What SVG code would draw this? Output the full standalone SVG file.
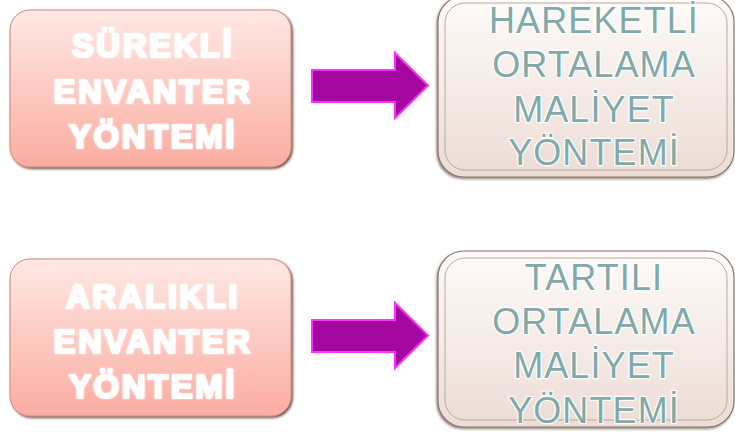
<svg xmlns="http://www.w3.org/2000/svg" width="735" height="432" viewBox="0 0 735 432">
<defs>
<linearGradient id="pink" x1="0" y1="0" x2="0" y2="1">
<stop offset="0" stop-color="#fee9e4"/>
<stop offset="1" stop-color="#fbaca1"/>
</linearGradient>
<linearGradient id="cream" x1="0" y1="0" x2="0" y2="1">
<stop offset="0" stop-color="#fefbf9"/>
<stop offset="1" stop-color="#ecdcd5"/>
</linearGradient>
<filter id="shadow" x="-10%" y="-10%" width="125%" height="125%">
<feDropShadow dx="1.5" dy="1.5" stdDeviation="1.2" flood-color="#4a2018" flood-opacity="0.8"/>
</filter>
<filter id="shadow2" x="-10%" y="-10%" width="125%" height="125%">
<feDropShadow dx="-1" dy="1.5" stdDeviation="1.2" flood-color="#3a2a20" flood-opacity="0.6"/>
</filter>
<filter id="glow" x="-10%" y="-20%" width="120%" height="140%">
<feGaussianBlur in="SourceAlpha" stdDeviation="1.2" result="b"/>
<feFlood flood-color="#ffffff" flood-opacity="0.7"/>
<feComposite in2="b" operator="in" result="g"/>
<feMerge><feMergeNode in="g"/><feMergeNode in="SourceGraphic"/></feMerge>
</filter>
</defs>
<style>
.lbox{fill:url(#pink);stroke:#d08a7c;stroke-width:1;filter:url(#shadow)}
.rbox{fill:url(#cream);stroke:#8a766c;stroke-width:1.2;filter:url(#shadow2)}
.inner{fill:none;stroke:#b8aaa2;stroke-width:1}
.lt{font-family:"Liberation Sans",Arial,sans-serif;font-weight:bold;font-size:33px;letter-spacing:2.5px;fill:#ffffff;stroke:#ffffff;stroke-width:2.2px;stroke-linejoin:round;text-anchor:middle;filter:url(#glow)}
.rt{font-family:"Liberation Sans",Arial,sans-serif;font-size:36px;letter-spacing:1.1px;fill:#82a9a9;stroke:#ffffff;stroke-width:2.4px;paint-order:stroke;stroke-linejoin:round;text-anchor:middle}
.arrow{fill:#a3079e;stroke:#ff30ff;stroke-width:2;stroke-linejoin:miter}
</style>
<g id="surekli">
<rect class="lbox" x="10" y="10" width="281" height="157" rx="20"/>
<text class="lt" x="153" y="57">SÜREKLİ</text>
<text class="lt" x="153" y="103">ENVANTER</text>
<text class="lt" x="153" y="148">YÖNTEMİ</text>
</g>
<g id="aralikli">
<rect class="lbox" x="10" y="259" width="281" height="157" rx="20"/>
<text class="lt" x="153" y="308">ARALIKLI</text>
<text class="lt" x="153" y="353">ENVANTER</text>
<text class="lt" x="153" y="398">YÖNTEMİ</text>
</g>
<g id="hareketli">
<rect class="rbox" x="438" y="-4" width="296" height="181" rx="26"/>
<rect class="inner" x="445" y="3" width="282" height="167" rx="20"/>
<text class="rt" x="594" y="33">HAREKETLİ</text>
<text class="rt" x="594" y="77">ORTALAMA</text>
<text class="rt" x="594" y="122">MALİYET</text>
<text class="rt" x="594" y="165">YÖNTEMİ</text>
</g>
<g id="tartili">
<rect class="rbox" x="438" y="251" width="296" height="176" rx="26"/>
<rect class="inner" x="445" y="258" width="282" height="162" rx="20"/>
<text class="rt" x="594" y="290">TARTILI</text>
<text class="rt" x="594" y="334">ORTALAMA</text>
<text class="rt" x="594" y="378">MALİYET</text>
<text class="rt" x="594" y="423">YÖNTEMİ</text>
</g>
<g id="connectors">
<polygon class="arrow" points="312,70 395,70 395,53 428,85.5 395,118 395,102 312,102"/>
<polygon class="arrow" points="312,320 395,320 395,303 428,335.5 395,368 395,352 312,352"/>
</g>
</svg>
